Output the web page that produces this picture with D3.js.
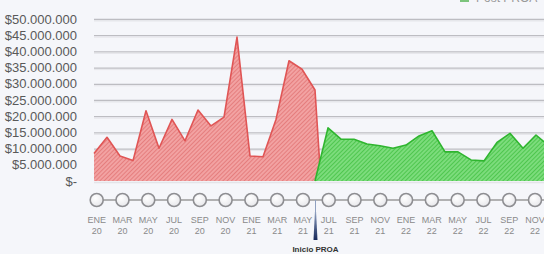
<!DOCTYPE html>
<html><head><meta charset="utf-8">
<script src="https://cdn.jsdelivr.net/npm/d3@7"></script>
<style>
html,body{margin:0;padding:0;background:#f5f6fa;overflow:hidden}
svg{display:block}
</style></head>
<body>
<svg id="c" width="544" height="254"></svg>
<script>
// ---- data ----
const monthLabels = ["ENE","MAR","MAY","JUL","SEP","NOV","ENE","MAR","MAY","JUL","SEP","NOV","ENE","MAR","MAY","JUL","SEP","NOV"];
const yearLabels  = ["20","20","20","20","20","20","21","21","21","21","21","21","22","22","22","22","22","22"];
const labelMonthIdx = [0,2,4,6,8,10,12,14,16,18,20,22,24,26,28,30,32,34];
// pre-PROA (red) series: month index (0 = ENE 20) and amount
const preMonth  = [0,1,2,3,4,5,6,7,8,9,10,11,12,13,14,15,16,17,17.45];
const preValue  = [8500000,13500000,7700000,6300000,21700000,10100000,19000000,12400000,21900000,17000000,19700000,44400000,7700000,7500000,19000000,37100000,34500000,28100000,0];
// post-PROA (green) series
const postMonth = [17,18,19,20,21,22,23,24,25,26,27,28,29,30,31,32,33,34,35];
const postValue = [0,16400000,12900000,12900000,11400000,10900000,10100000,11100000,13900000,15500000,9000000,9000000,6500000,6200000,11900000,14700000,10100000,14200000,10800000];
const yTicks = [0,5000000,10000000,15000000,20000000,25000000,30000000,35000000,40000000,45000000,50000000];
const markerMonth = 17;
const markerLabel = "Inicio PROA";

const svg = d3.select("#c");
const W = 544;
const left = 94;
const x = d3.scaleLinear().domain([0, 35]).range([left, left + 35*13]);
const xt = d3.scaleLinear().domain([0, 34]).range([96.7, 535]);
const y = d3.scaleLinear().domain([0, 50000000]).range([181, 19]);

const defs = svg.append("defs");
function hatch(id, bg, fg){
  const p = defs.append("pattern").attr("id", id).attr("patternUnits","userSpaceOnUse")
    .attr("width", 3).attr("height", 3).attr("patternTransform","rotate(45)");
  p.append("rect").attr("width",3).attr("height",3).attr("fill",bg);
  p.append("line").attr("x1",0).attr("y1",0).attr("x2",0).attr("y2",3).attr("stroke",fg).attr("stroke-width",1.2);
}
hatch("hr", "#f2a2a2", "#dd6666");
hatch("hg", "#7cdc7c", "#30b830");
const cg = defs.append("radialGradient").attr("id","cg").attr("cx","40%").attr("cy","35%").attr("r","70%");
cg.append("stop").attr("offset","0%").attr("stop-color","#ffffff");
cg.append("stop").attr("offset","100%").attr("stop-color","#e6e6ea");
const mg = defs.append("linearGradient").attr("id","mg").attr("x1",0).attr("y1",0).attr("x2",0).attr("y2",1);
mg.append("stop").attr("offset","0%").attr("stop-color","#8fa0c0");
mg.append("stop").attr("offset","100%").attr("stop-color","#16285a");

// background
svg.append("rect").attr("width",W).attr("height",254).attr("fill","#f5f6fa");

// y axis with grid
const loc = d3.formatLocale({decimal:",", thousands:".", grouping:[3], currency:["$",""]});
const fmt = loc.format("$,.0f");
const yAxis = d3.axisLeft(y).tickValues(yTicks).tickSize(-(W-left)).tickPadding(17)
  .tickFormat(d => d === 0 ? "$-" : fmt(d));
const gy = svg.append("g").attr("transform", `translate(${left},0)`).call(yAxis);
gy.select(".domain").remove();
gy.selectAll(".tick line").attr("stroke","#bdbdc2").attr("stroke-width",1.3)
  .filter(d => d === 0).remove();
gy.selectAll(".tick").each(function(d){
  if (d === 0) return;
  d3.select(this).append("line").attr("x1",0).attr("x2",W-left).attr("y1",1.5).attr("y2",1.5)
    .attr("stroke","#e6e6ea").attr("stroke-width",1);
});
gy.selectAll(".tick text").attr("font-family","'Liberation Sans', Arial, sans-serif").attr("font-size",13)
  .attr("fill","#595959");

// areas
const preData = preMonth.map((m,i)=>({m, v:preValue[i]}));
const postData = postMonth.map((m,i)=>({m, v:postValue[i]}));
const area = d3.area().x(d=>x(d.m)).y0(y(0)).y1(d=>y(d.v));
const line = d3.line().x(d=>x(d.m)).y(d=>y(d.v));
svg.append("path").datum(preData).attr("d",area).attr("fill","url(#hr)");
svg.append("path").datum(preData).attr("d",line).attr("fill","none").attr("stroke","#e05555").attr("stroke-width",1.6).attr("stroke-linejoin","round");
svg.append("path").datum(postData).attr("d",area).attr("fill","url(#hg)");
svg.append("path").datum(postData).attr("d",line).attr("fill","none").attr("stroke","#2fb52f").attr("stroke-width",1.6).attr("stroke-linejoin","round");
svg.append("line").attr("x1",left).attr("x2",W).attr("y1",182.5).attr("y2",182.5).attr("stroke","#e4e4e8").attr("stroke-width",1.5);

// legend (mostly outside the top edge)
svg.append("rect").attr("x",460).attr("y",-6).attr("width",9).attr("height",8).attr("fill","#7cc47c");
svg.append("text").attr("x",476).attr("y",1.5).attr("font-family","'Liberation Sans', Arial, sans-serif").attr("font-size",12).attr("fill","#9a9a9a").text("Post PROA");

// timeline
const ty = 200;
svg.append("line").attr("x1",xt(labelMonthIdx[0])).attr("x2",W).attr("y1",ty).attr("y2",ty)
  .attr("stroke","#9a9a9a").attr("stroke-width",1.5);
// marker
const mx = x(markerMonth) + 0.5;
svg.append("line").attr("x1",mx).attr("x2",mx).attr("y1",ty).attr("y2",214).attr("stroke","#8fa0c0").attr("stroke-width",1);
svg.append("path").attr("d",`M${mx-0.6},212 L${mx+0.6},212 L${mx+2},240 L${mx-2},240 Z`).attr("fill","url(#mg)");
svg.append("text").attr("x",mx).attr("y",252).attr("text-anchor","middle")
  .attr("font-family","'Liberation Sans', Arial, sans-serif").attr("font-weight","bold").attr("font-size",8)
  .attr("fill","#333").text(markerLabel);

const tg = svg.append("g");
labelMonthIdx.forEach((m,i)=>{
  const cx = xt(m);
  tg.append("circle").attr("cx",cx).attr("cy",ty).attr("r",6.5).attr("fill","url(#cg)")
    .attr("stroke","#8e8e92").attr("stroke-width",1.6);
  tg.append("text").attr("x",cx).attr("y",222.5).attr("text-anchor","middle")
    .attr("font-family","'Liberation Sans', Arial, sans-serif").attr("font-size",9).attr("fill","#8a8a8a").text(monthLabels[i]);
  tg.append("text").attr("x",cx).attr("y",233.5).attr("text-anchor","middle")
    .attr("font-family","'Liberation Sans', Arial, sans-serif").attr("font-size",9).attr("fill","#8a8a8a").text(yearLabels[i]);
});
</script>
</body></html>
